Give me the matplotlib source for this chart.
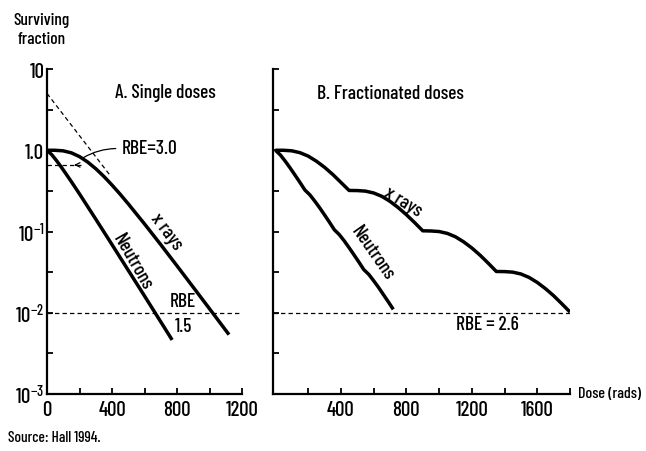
import matplotlib
matplotlib.use("Agg")
import matplotlib.pyplot as plt
from matplotlib import font_manager
from matplotlib.ticker import FixedLocator, NullFormatter

names = {f.name for f in font_manager.fontManager.ttflist}
FONT = "DejaVu Sans"
for cand in ("Barlow Condensed", "Archivo Narrow", "Asap Condensed", "Liberation Sans Narrow"):
    if cand in names:
        FONT = cand
        break
plt.rcParams["font.family"] = [FONT, "DejaVu Sans"]
plt.rcParams["font.weight"] = "medium"
plt.rcParams["mathtext.fontset"] = "custom"
plt.rcParams["mathtext.rm"] = FONT + ":medium"
plt.rcParams["mathtext.it"] = FONT + ":medium"

# ---------------- data ----------------
# Panel A: single doses
xray_single_dose = [0, 50, 100, 150, 200, 250, 300, 350, 400, 450, 500, 600, 700, 800, 900, 1000, 1120]
xray_single_surv = [1.0, 0.999, 0.983, 0.929, 0.835, 0.717, 0.593, 0.476, 0.373, 0.288, 0.219,
                    0.124, 0.0689, 0.0378, 0.0206, 0.0112, 0.00538]
neut_single_dose = [0, 30, 60, 90, 120, 150, 200, 250, 300, 400, 500, 600, 665, 770]
neut_single_surv = [1.0, 0.879, 0.739, 0.612, 0.502, 0.410, 0.290, 0.203, 0.142, 0.0690,
                    0.0333, 0.0161, 0.0100, 0.00463]
extrap_dose = [0, 385]
extrap_surv = [5.0, 0.50]
rbe30_dose = [0, 210]
rbe30_surv = [0.66, 0.66]

# Panel B: fractionated doses
xray_frac_dose = [0, 50, 100, 150, 200, 250, 300, 350, 400, 450,
                  500, 550, 600, 650, 700, 750, 800, 850, 900,
                  950, 1000, 1050, 1100, 1150, 1200, 1250, 1300, 1350,
                  1400, 1450, 1500, 1550, 1600, 1650, 1700, 1750, 1800]
xray_frac_surv = [1.0, 0.999, 0.984, 0.933, 0.847, 0.734, 0.617, 0.504, 0.402, 0.320,
                  0.319, 0.314, 0.298, 0.271, 0.235, 0.197, 0.161, 0.129, 0.102,
                  0.1015, 0.0999, 0.0948, 0.0861, 0.0746, 0.0627, 0.0512, 0.0408, 0.0322,
                  0.0321, 0.0316, 0.0300, 0.0272, 0.0236, 0.0198, 0.0162, 0.0129, 0.0102]
neut_frac_dose = [0, 30, 60, 90, 120, 150, 180,
                  210, 240, 270, 300, 330, 360,
                  390, 420, 450, 480, 510, 540,
                  570, 600, 630, 660, 690, 720]
neut_frac_surv = [1.0, 0.875, 0.733, 0.604, 0.493, 0.401, 0.324,
                  0.283, 0.237, 0.196, 0.160, 0.130, 0.105,
                  0.0916, 0.0768, 0.0632, 0.0516, 0.0420, 0.0339,
                  0.0297, 0.0248, 0.0205, 0.0167, 0.0136, 0.0110]

ref_level = 0.01
y_ticks = [1e-3, 1e-2, 1e-1, 1, 10]
y_labels = ["$10^{-3}$", "$10^{-2}$", "$10^{-1}$", "1.0", "10"]
y_minor = [10 ** -2.5, 10 ** -1.5, 10 ** -0.5, 10 ** 0.5]
a_xticks = [0, 400, 800, 1200]
a_xminor = [200, 600, 1000]
b_xticks = [400, 800, 1200, 1600]
b_xminor = [200, 600, 1000, 1400, 1800]

# ---------------- figure ----------------
W, H = 646, 452
fig = plt.figure(figsize=(W / 100, H / 100), dpi=100)
fig.patch.set_facecolor("white")

def px_ax(l, t, r, b):
    return fig.add_axes([l / W, 1 - b / H, (r - l) / W, (b - t) / H])

axA = px_ax(47, 70, 242, 395)
axB = px_ax(273, 70, 570, 395)

LW = 2.5
FS = 14
TFS = 15
DASH = (0, (3.5, 2.5))
for ax in (axA, axB):
    ax.set_yscale("log")
    ax.set_ylim(1e-3, 10)
    for s in ("top", "right"):
        ax.spines[s].set_visible(False)
    for s in ("left", "bottom"):
        ax.spines[s].set_linewidth(1.6)
    ax.tick_params(which="both", direction="in", length=4, width=1.3,
                   labelsize=TFS, pad=2)
    ax.tick_params(axis="x", which="both", pad=4)
    ax.yaxis.set_major_locator(FixedLocator(y_ticks))
    ax.yaxis.set_minor_locator(FixedLocator(y_minor))
    ax.yaxis.set_minor_formatter(NullFormatter())
    ax.set_facecolor("none")

axA.set_xlim(0, 1200)
axA.set_xticks(a_xticks)
axA.xaxis.set_minor_locator(FixedLocator(a_xminor))
axA.set_yticklabels(y_labels)

axB.set_xlim(-15, 1800)
axB.set_xticks(b_xticks)
axB.xaxis.set_minor_locator(FixedLocator(b_xminor))
axB.set_yticklabels([])

# Panel A curves
axA.plot(xray_single_dose, xray_single_surv, color="black", lw=LW, solid_capstyle="butt")
axA.plot(neut_single_dose, neut_single_surv, color="black", lw=LW, solid_capstyle="butt")
axA.plot(extrap_dose, extrap_surv, color="black", lw=0.9, ls=DASH)
axA.plot(rbe30_dose, rbe30_surv, color="black", lw=0.9, ls=DASH)
axA.axhline(ref_level, color="black", lw=0.9, ls=DASH)
axA.annotate("", xy=(150, 0.66), xytext=(200, 0.66),
             arrowprops=dict(arrowstyle="->", lw=0.9, color="black", mutation_scale=8))
axA.annotate("", xy=(210, 0.78), xytext=(440, 1.05),
             arrowprops=dict(arrowstyle="-", lw=0.9, color="black",
                             connectionstyle="arc3,rad=0.15"))

axA.text(726, 5.2, "A. Single doses", fontsize=FS, ha="center", va="center")
axA.text(634, 1.08, "RBE=3.0", fontsize=FS, ha="center", va="center")
axA.text(738, 0.101, "x rays", fontsize=FS, ha="center", va="center", rotation=-53)
axA.text(529, 0.0434, "Neutrons", fontsize=FS, ha="center", va="center", rotation=-60)
axA.text(837, 0.0138, "RBE", fontsize=FS, ha="center", va="center")
axA.text(837, 0.0068, "1.5", fontsize=FS, ha="center", va="center")

# Panel B curves
axB.plot(xray_frac_dose, xray_frac_surv, color="black", lw=LW, solid_capstyle="butt")
axB.plot(neut_frac_dose, neut_frac_surv, color="black", lw=LW, solid_capstyle="butt")
axB.plot([-15, xray_frac_dose[-1]], [ref_level, ref_level], color="black", lw=0.9, ls=DASH)

axB.text(700, 5.07, "B. Fractionated doses", fontsize=FS, ha="center", va="center")
axB.text(780, 0.237, "x rays", fontsize=FS, ha="center", va="center", rotation=-32)
axB.text(596, 0.056, "Neutrons", fontsize=FS, ha="center", va="center", rotation=-55)
axB.text(1294, 0.0073, "RBE = 2.6", fontsize=FS, ha="center", va="center")

# figure-level text
fig.text(42 / W, 1 - 20 / H, "Surviving", fontsize=12.5, ha="center", va="center")
fig.text(42 / W, 1 - 39 / H, "fraction", fontsize=12.5, ha="center", va="center")
fig.text(578 / W, 1 - 394 / H, "Dose (rads)", fontsize=11.5, ha="left", va="center")
fig.text(8 / W, 1 - 438 / H, "Source: Hall 1994.", fontsize=11, ha="left", va="center")

fig.savefig("out.png", dpi=100, facecolor="white")
